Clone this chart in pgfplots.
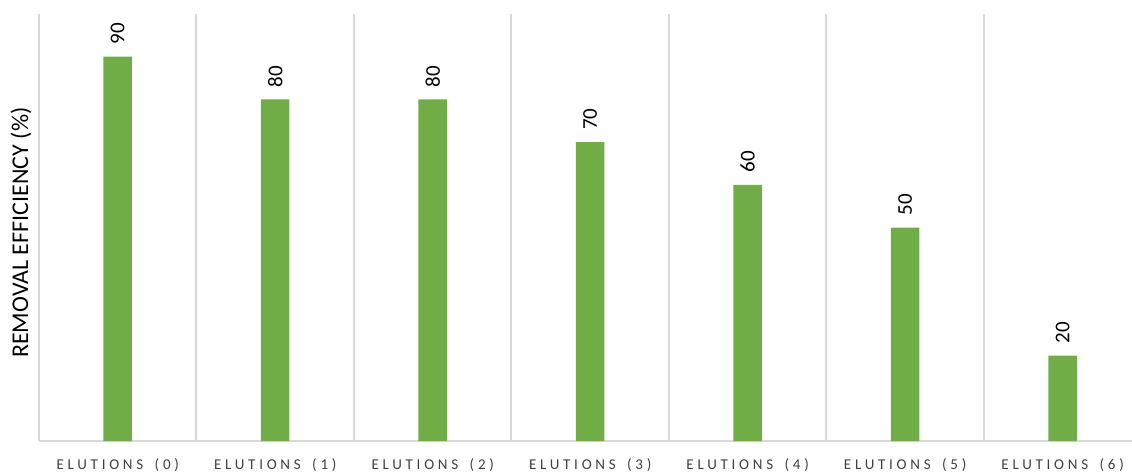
\documentclass[border=0pt]{standalone}
\usepackage{fontspec}
\setmainfont{Carlito}
\newfontfamily\spacedfont[LetterSpace=25,WordSpace=1.6]{Carlito}
\usepackage{pgfplots}
\pgfplotsset{compat=1.18}
\usetikzlibrary{calc}
\definecolor{barGreen}{HTML}{70AD47}
\definecolor{gridGray}{HTML}{D9D9D9}
\definecolor{tickText}{HTML}{404040}
\begin{document}
\begin{tikzpicture}
\begin{axis}[
  name=ax,
  scale only axis,
  width=1093pt, height=427pt,
  xmin=-0.5, xmax=6.44,
  ymin=0, ymax=100,
  ytick=\empty,
  xtick={0,...,6},
  xticklabels={ELUTIONS (0),ELUTIONS (1),ELUTIONS (2),ELUTIONS (3),ELUTIONS (4),ELUTIONS (5),ELUTIONS (6)},
  minor xtick={-0.5,0.5,...,5.5},
  xminorgrids=true,
  minor grid style={draw=gridGray, line width=2pt},
  major tick length=0pt, minor tick length=0pt,
  axis x line=bottom, axis y line=left,
  axis line style={-, draw=gridGray, line width=2pt},
  xticklabel style={font=\fontsize{15}{18}\spacedfont, text=tickText, anchor=base, inner sep=0pt},
  xticklabel shift=28pt,
  ylabel={REMOVAL EFFICIENCY (\%)},
  ylabel style={font=\fontsize{24}{28}\selectfont, at={(axis description cs:-0.0165,0.488)}, anchor=center, inner sep=0pt},
  ybar, bar width=28.5pt,
  /pgf/number format/assume math mode=true,
  nodes near coords,
  every node near coord/.append style={font=\fontsize{21}{25}\selectfont, text=black, yshift=12pt, rotate=90, anchor=west, inner sep=0pt},
]
\addplot[fill=barGreen, draw=none] coordinates {(0,90) (1,80) (2,80) (3,70) (4,60) (5,50) (6,20)};
\end{axis}
\pgfresetboundingbox
\useasboundingbox ($(ax.south west)+(-39pt,-31pt)$) rectangle ($(ax.south west)+(1093pt,441pt)$);
\end{tikzpicture}
\end{document}
